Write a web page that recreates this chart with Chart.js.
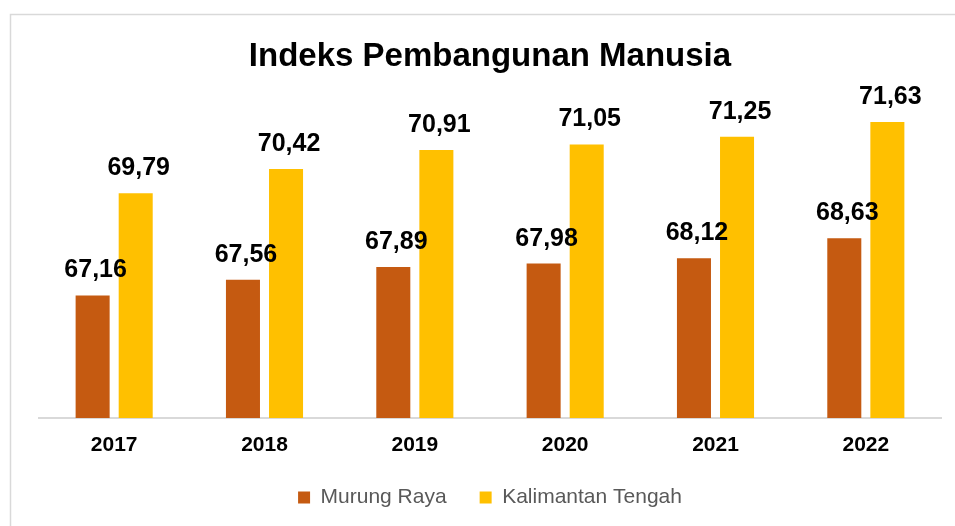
<!DOCTYPE html>
<html>
<head>
<meta charset="utf-8">
<script src="https://cdn.jsdelivr.net/npm/chart.js@4/dist/chart.umd.min.js"></script>
<style>
html,body{margin:0;padding:0;background:#fff;}
#wrap{width:955px;height:526px;}
</style>
</head>
<body>
<div id="wrap"><canvas id="c" width="955" height="526"></canvas></div>
<script>
const categories = ['2017','2018','2019','2020','2021','2022'];
const murungRaya = [67.16, 67.56, 67.89, 67.98, 68.12, 68.63];
const kalimantanTengah = [69.79, 70.42, 70.91, 71.05, 71.25, 71.63];
const seriesNames = ['Murung Raya', 'Kalimantan Tengah'];
const titleText = 'Indeks Pembangunan Manusia';

const fmt = v => v.toFixed(2).replace('.', ',');

const framePlugin = {
  id: 'frame',
  beforeDraw(chart) {
    const ctx = chart.ctx;
    ctx.save();
    ctx.fillStyle = '#fff';
    ctx.fillRect(0, 0, chart.width, chart.height);
    ctx.strokeStyle = '#d9d9d9';
    ctx.lineWidth = 1.5;
    ctx.strokeRect(10.5, 14.5, 1200, 1200);
    ctx.restore();
  }
};

const valueLabels = {
  id: 'valueLabels',
  afterDatasetsDraw(chart) {
    const ctx = chart.ctx;
    ctx.save();
    ctx.font = 'bold 25px "Liberation Sans", Arial, sans-serif';
    ctx.fillStyle = '#000';
    ctx.textAlign = 'center';
    ctx.textBaseline = 'alphabetic';
    chart.data.datasets.forEach((ds, i) => {
      const meta = chart.getDatasetMeta(i);
      meta.data.forEach((bar, j) => {
        ctx.fillText(fmt(ds.data[j]), bar.x + 3, bar.y - 18);
      });
    });
    ctx.restore();
  }
};

new Chart(document.getElementById('c'), {
  type: 'bar',
  data: {
    labels: categories,
    datasets: [
      { label: seriesNames[0], data: murungRaya, backgroundColor: '#C55A11' },
      { label: seriesNames[1], data: kalimantanTengah, backgroundColor: '#FFC000' }
    ]
  },
  options: {
    responsive: false,
    animation: false,
    devicePixelRatio: 1,
    layout: { padding: { left: 39, right: 14, top: 15, bottom: 8 } },
    datasets: { bar: { categoryPercentage: 0.573, barPercentage: 0.79 } },
    scales: {
      x: {
        grid: { display: false, drawTicks: false },
        border: { display: true, color: '#d9d9d9', width: 2 },
        ticks: {
          color: '#000',
          padding: 15,
          font: { family: '"Liberation Sans", Arial, sans-serif', size: 21, weight: 'bold' }
        },
        afterFit(scale) { scale.height = 36; }
      },
      y: {
        display: false,
        min: 64,
        max: 72
      }
    },
    plugins: {
      title: {
        display: true,
        text: titleText,
        color: '#000',
        font: { family: '"Liberation Sans", sans-serif', size: 33, weight: 'bold' },
        padding: { top: 22, bottom: 31 }
      },
      legend: {
        position: 'bottom',
        labels: {
          boxWidth: 12,
          boxHeight: 12,
          color: '#595959',
          padding: 33,
          font: { family: '"Liberation Sans", Arial, sans-serif', size: 21 }
        }
      },
      tooltip: { enabled: false }
    }
  },
  plugins: [framePlugin, valueLabels]
});
</script>
</body>
</html>
